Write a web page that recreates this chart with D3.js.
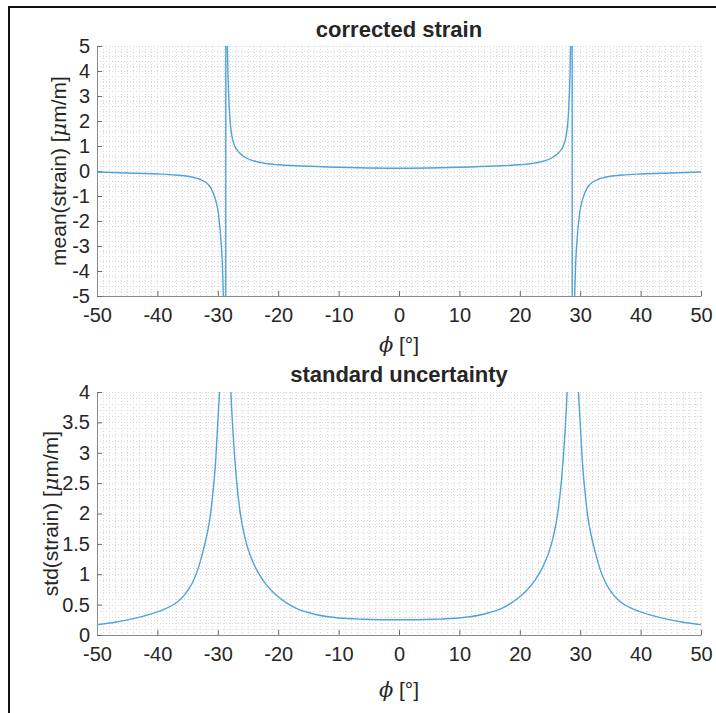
<!DOCTYPE html>
<html>
<head>
    <title>corrected strain</title>
    <style>
        body { margin: 0; background: #fff; }
        text { font-family: "Liberation Sans", Arial, sans-serif; fill: #262626; }
    </style>
    <script src="https://d3js.org/d3.v7.min.js"></script>
</head>
<body>
<svg id="chart"></svg>
<script>
    // angle samples (degrees) for both panels
    const phiMean = [-50, -45, -40, -37, -35, -34, -33, -32, -31.5, -31, -30.5, -29.9, -29.5, -29.25, -29.1, -28.95, -28.7,
        -28.65, -28.45, -28.35, -28.1, -27.7, -27.2, -26.5, -25.5, -24, -22, -20, -16, -10, -5, 0,
        5, 10, 16, 20, 22, 24, 25.5, 26.5, 27.2, 27.7, 28.1, 28.35, 28.45, 28.65,
        28.7, 28.95, 29.1, 29.25, 29.5, 29.9, 30.5, 31, 31.5, 32, 33, 34, 35, 37, 40, 45, 50];
    const meanStrain = [-0.04, -0.08, -0.12, -0.16, -0.21, -0.26, -0.33, -0.45, -0.56, -0.75, -1.05, -1.7, -2.7, -3.7, -4.9, -7, -40,
        40, 6, 4.3, 2.5, 1.45, 1.0, 0.75, 0.55, 0.4, 0.3, 0.25, 0.2, 0.15, 0.12, 0.11,
        0.12, 0.15, 0.2, 0.25, 0.3, 0.4, 0.55, 0.75, 1.0, 1.45, 2.5, 4.3, 6, 40,
        -40, -7, -4.9, -3.7, -2.7, -1.7, -1.05, -0.75, -0.56, -0.45, -0.33, -0.26, -0.21, -0.16, -0.12, -0.08, -0.04];

    const phiStd = [-50, -47, -44, -42, -40, -38.5, -37.5, -36.5, -35.5, -34.2, -33.3, -32.5, -31.8, -31.3, -30.8, -30.4, -30, -29.6, -29.2, -28.75,
        -28.3, -27.9, -27.5, -26.9, -26.3, -25.5, -24.7, -23.6, -22.5, -21.2, -20, -18.5, -17, -15, -13, -10, -6, 0,
        6, 10, 13, 15, 17, 18.5, 20, 21.2, 22.5, 23.6, 24.7, 25.5, 26.3, 26.9, 27.5, 27.9, 28.3,
        28.75, 29.2, 29.6, 30, 30.4, 30.8, 31.3, 31.8, 32.5, 33.3, 34.2, 35.5, 36.5, 37.5, 38.5, 40, 42, 44, 47, 50];
    const stdStrain = [0.17, 0.21, 0.27, 0.32, 0.38, 0.44, 0.49, 0.56, 0.66, 0.86, 1.08, 1.36, 1.65, 1.92, 2.35, 2.8, 3.5, 4.3, 6, 12,
        6, 4.2, 3.37, 2.55, 2.02, 1.6, 1.33, 1.08, 0.9, 0.74, 0.63, 0.52, 0.44, 0.37, 0.32, 0.28, 0.26, 0.25,
        0.26, 0.28, 0.32, 0.37, 0.44, 0.52, 0.63, 0.74, 0.9, 1.08, 1.33, 1.6, 2.02, 2.55, 3.37, 4.2, 6,
        12, 6, 4.3, 3.5, 2.8, 2.35, 1.92, 1.65, 1.36, 1.08, 0.86, 0.66, 0.56, 0.49, 0.44, 0.38, 0.32, 0.27, 0.21, 0.17];

    const xTicks = [-50, -40, -30, -20, -10, 0, 10, 20, 30, 40, 50];
    const meanTicks = [-5, -4, -3, -2, -1, 0, 1, 2, 3, 4, 5];
    const stdTicks = [0, 0.5, 1, 1.5, 2, 2.5, 3, 3.5, 4];

    const W = 716, H = 713;
    const svg = d3.select('#chart').attr('width', W).attr('height', H);

    // figure frame
    svg.append('path').attr('d', `M9,${H}V7H${W}`)
        .attr('fill', 'none').attr('stroke', '#111').attr('stroke-width', 2);

    const x = d3.scaleLinear().domain([-50, 50]).range([97, 701]);
    const fmt = d => String(d);   // plain hyphen minus, no trailing zeros

    function panel(opt) {
        const y = d3.scaleLinear().domain(opt.yDomain).range([opt.bottom, opt.top]);
        const g = svg.append('g');
        const clipId = 'clip' + opt.id;
        g.append('clipPath').attr('id', clipId).append('rect')
            .attr('x', x(-50)).attr('y', opt.top)
            .attr('width', x(50) - x(-50)).attr('height', opt.bottom - opt.top);

        // minor dotted grid
        const grid = g.append('g').attr('stroke', '#d9d9d9').attr('stroke-width', 1).attr('stroke-dasharray', '1,2');
        grid.selectAll('.gx').data(d3.range(-50, 50.001, 1)).join('line')
            .attr('x1', d => Math.round(x(d)) + 0.5).attr('x2', d => Math.round(x(d)) + 0.5)
            .attr('y1', opt.top).attr('y2', opt.bottom);
        grid.selectAll('.gy').data(d3.range(opt.yDomain[0], opt.yDomain[1] + 1e-9, opt.minorY)).join('line')
            .attr('y1', d => Math.round(y(d)) + 0.5).attr('y2', d => Math.round(y(d)) + 0.5)
            .attr('x1', x(-50)).attr('x2', x(50));

        // axes (ticks inward, no box)
        const xAxis = g.append('g').attr('transform', `translate(0,${opt.bottom})`)
            .call(d3.axisBottom(x).tickValues(xTicks).tickFormat(fmt).tickSizeInner(-5).tickSizeOuter(0).tickPadding(12));
        const yAxis = g.append('g').attr('transform', `translate(${x(-50)},0)`)
            .call(d3.axisLeft(y).tickValues(opt.yTicks).tickFormat(fmt).tickSizeInner(-5).tickSizeOuter(0).tickPadding(7));
        [xAxis, yAxis].forEach(a => {
            a.select('.domain').attr('stroke', '#8a8a8a');
            a.selectAll('.tick line').attr('stroke', '#6a6a6a');
            a.selectAll('.tick text').attr('fill', '#262626')
                .style('font-family', '"Liberation Sans", Arial, sans-serif').style('font-size', '20px');
        });

        // curve
        g.append('path')
            .datum(opt.xs.map((v, i) => [v, opt.ys[i]]))
            .attr('clip-path', `url(#${clipId})`)
            .attr('fill', 'none').attr('stroke', '#4fa3d9').attr('stroke-width', 1.4)
            .attr('d', d3.line().x(d => x(d[0])).y(d => y(d[1])).curve(d3.curveMonotoneX));

        // title
        svg.append('text').attr('x', (x(-50) + x(50)) / 2).attr('y', opt.titleY)
            .attr('text-anchor', 'middle').style('font-size', '22px').style('font-weight', 'bold')
            .text(opt.title);

        // x label
        const xl = svg.append('text').attr('x', (x(-50) + x(50)) / 2).attr('y', opt.xLabelY)
            .attr('text-anchor', 'middle').style('font-size', '21px');
        xl.append('tspan').style('font-family', '"DejaVu Serif", serif').style('font-style', 'italic').text('ϕ');
        xl.append('tspan').text(' [°]');

        // y label
        const yl = svg.append('text')
            .attr('transform', `translate(${opt.yLabelX},${(opt.top + opt.bottom) / 2}) rotate(-90)`)
            .attr('text-anchor', 'middle').style('font-size', '21px');
        yl.append('tspan').text(opt.yLabel + ' [');
        yl.append('tspan').style('font-family', '"DejaVu Serif", serif').style('font-style', 'italic').text('μ');
        yl.append('tspan').text('m/m]');
    }

    panel({
        id: 'a', top: 46, bottom: 296, yDomain: [-5, 5], yTicks: meanTicks, minorY: 0.2,
        xs: phiMean, ys: meanStrain, title: 'corrected strain', titleY: 37, xLabelY: 352,
        yLabel: 'mean(strain)', yLabelX: 66
    });
    panel({
        id: 'b', top: 392, bottom: 635, yDomain: [0, 4], yTicks: stdTicks, minorY: 0.1,
        xs: phiStd, ys: stdStrain, title: 'standard uncertainty', titleY: 382, xLabelY: 697,
        yLabel: 'std(strain)', yLabelX: 58
    });
</script>
</body>
</html>
